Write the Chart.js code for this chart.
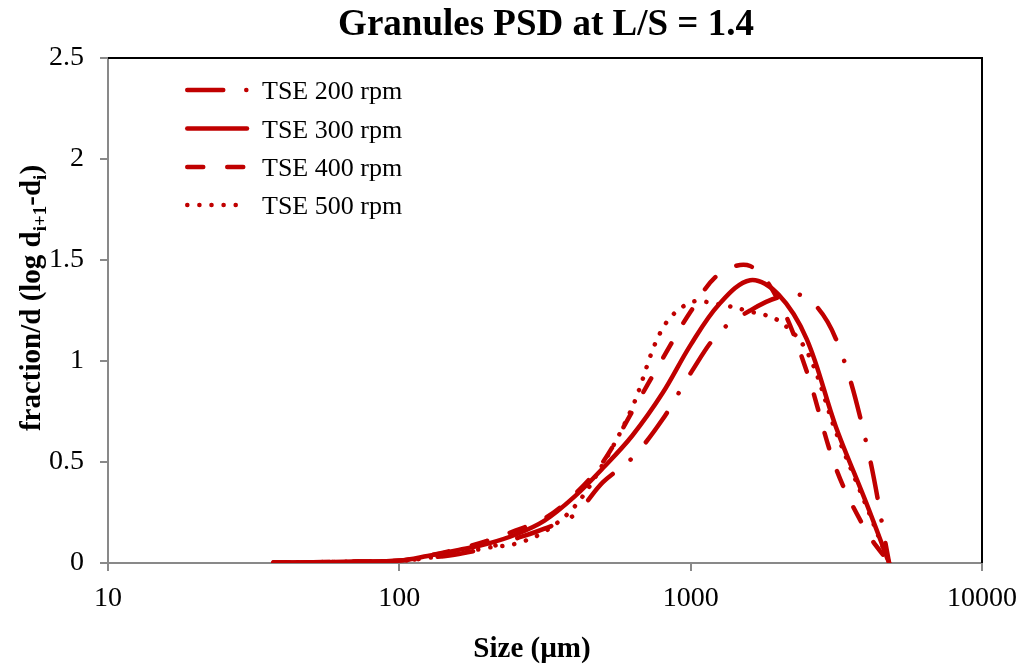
<!DOCTYPE html>
<html>
<head>
<meta charset="utf-8">
<script src="https://cdn.jsdelivr.net/npm/chart.js@4"></script>
<style>
  body { margin: 0; background: #fff; }
</style>
</head>
<body>
<canvas id="grafico" width="1028" height="665"></canvas>
<script>
// Tamanhos (µm) e curvas
const tamanhos = [37, 50, 70, 100, 125, 160, 200, 250, 315, 400, 500, 630, 800, 1000, 1250, 1600, 2000, 2500, 3150, 4000, 4800];
const tse200 = [0.002, 0.004, 0.006, 0.01, 0.025, 0.045, 0.075, 0.12, 0.17, 0.24, 0.40, 0.52, 0.71, 0.94, 1.14, 1.25, 1.315, 1.315, 1.11, 0.60, 0];
const tse300 = [0.002, 0.004, 0.007, 0.012, 0.035, 0.065, 0.095, 0.14, 0.21, 0.33, 0.47, 0.63, 0.84, 1.08, 1.28, 1.40, 1.33, 1.11, 0.675, 0.30, 0];
const tse400 = [0.002, 0.004, 0.007, 0.012, 0.035, 0.07, 0.11, 0.16, 0.22, 0.34, 0.50, 0.75, 1.01, 1.245, 1.43, 1.47, 1.30, 0.95, 0.47, 0.16, 0];
const tse500 = [0.002, 0.004, 0.007, 0.01, 0.025, 0.048, 0.075, 0.095, 0.155, 0.28, 0.49, 0.77, 1.16, 1.29, 1.28, 1.245, 1.20, 1.05, 0.65, 0.285, 0];
const ticksX = [10, 100, 1000, 10000];
const ticksY = [0, 0.5, 1, 1.5, 2, 2.5];
const rotulos = ["TSE 200 rpm", "TSE 300 rpm", "TSE 400 rpm", "TSE 500 rpm"];

const vermelho = "#C00000";
const cinza = "#898989";
const fonte = '"Liberation Serif", "Times New Roman", serif';

const estilos = [
  [36, 23, 0.1, 23], // traço-ponto
  [],                // contínua
  [16, 24],          // tracejada
  [0.1, 12],         // pontilhada
];

function serie(valores, i) {
  return {
    label: rotulos[i],
    data: tamanhos.map((t, k) => ({ x: t, y: valores[k] })),
    borderColor: vermelho,
    borderWidth: 4.5,
    borderDash: estilos[i],
    borderCapStyle: "round",
    borderJoinStyle: "round",
    pointRadius: 0,
    tension: 0.35,
    fill: false,
  };
}

// textos, legenda e moldura desenhados à mão
const extras = {
  id: "extras",
  afterDraw(chart) {
    const ctx = chart.ctx;
    const a = chart.chartArea;
    ctx.save();

    // moldura preta em cima e à direita
    ctx.strokeStyle = "#000";
    ctx.lineWidth = 2;
    ctx.beginPath();
    ctx.moveTo(a.left, a.top);
    ctx.lineTo(a.right, a.top);
    ctx.lineTo(a.right, a.bottom);
    ctx.stroke();

    // título
    ctx.fillStyle = "#000";
    ctx.textAlign = "center";
    ctx.textBaseline = "alphabetic";
    ctx.font = "bold 37px " + fonte;
    ctx.fillText("Granules PSD at L/S = 1.4", 546, 35);

    // título do eixo x
    ctx.font = "bold 29px " + fonte;
    ctx.fillText("Size (\u00b5m)", 532, 657);

    // título do eixo y com subscritos
    const partes = [
      ["fraction/d (log d", false],
      ["i+1", true],
      ["-d", false],
      ["i", true],
      [")", false],
    ];
    const fNormal = "bold 29px " + fonte;
    const fSub = "bold 19px " + fonte;
    let total = 0;
    partes.forEach(([t, sub]) => {
      ctx.font = sub ? fSub : fNormal;
      total += ctx.measureText(t).width;
    });
    ctx.translate(40, 298);
    ctx.rotate(-Math.PI / 2);
    ctx.textAlign = "left";
    let px = -total / 2;
    partes.forEach(([t, sub]) => {
      ctx.font = sub ? fSub : fNormal;
      ctx.fillText(t, px, sub ? 6 : 0);
      px += ctx.measureText(t).width;
    });
    ctx.setTransform(1, 0, 0, 1, 0, 0);

    // legenda
    const linhas = [90, 128.5, 167, 205];
    ctx.font = "26px " + fonte;
    ctx.textAlign = "left";
    chart.data.datasets.forEach((ds, i) => {
      const y = linhas[i];
      ctx.strokeStyle = vermelho;
      ctx.lineWidth = 4.5;
      ctx.lineCap = "round";
      ctx.setLineDash(ds.borderDash);
      ctx.beginPath();
      ctx.moveTo(187.25, y);
      ctx.lineTo(247, y);
      ctx.stroke();
      ctx.setLineDash([]);
      ctx.fillStyle = "#000";
      ctx.fillText(ds.label, 262, y + 9);
    });

    ctx.restore();
  },
};

new Chart(document.getElementById("grafico"), {
  type: "line",
  data: {
    datasets: [serie(tse200, 0), serie(tse300, 1), serie(tse400, 2), serie(tse500, 3)],
  },
  options: {
    responsive: false,
    animation: false,
    layout: { padding: { top: 58, right: 45, left: 0, bottom: 0 } },
    plugins: {
      legend: { display: false },
      title: { display: false },
      tooltip: { enabled: false },
    },
    scales: {
      x: {
        type: "logarithmic",
        min: 10,
        max: 10000,
        afterBuildTicks: (scale) => {
          scale.ticks = ticksX.map((v) => ({ value: v }));
        },
        afterFit: (scale) => {
          scale.height = 102;
        },
        ticks: {
          autoSkip: false,
          maxRotation: 0,
          padding: 11,
          color: "#000",
          font: { family: fonte, size: 28 },
          callback: (v) => String(v),
        },
        grid: {
          drawOnChartArea: false,
          tickLength: 8,
          color: cinza,
          lineWidth: 2,
        },
        border: { color: cinza, width: 2 },
      },
      y: {
        min: 0,
        max: 2.5,
        afterBuildTicks: (scale) => {
          scale.ticks = ticksY.map((v) => ({ value: v }));
        },
        afterFit: (scale) => {
          scale.width = 108;
        },
        ticks: {
          padding: 16,
          color: "#000",
          font: { family: fonte, size: 28 },
          callback: (v) => String(v),
        },
        grid: {
          drawOnChartArea: false,
          tickLength: 8,
          color: cinza,
          lineWidth: 2,
        },
        border: { color: cinza, width: 2 },
      },
    },
  },
  plugins: [extras],
});
</script>
</body>
</html>
